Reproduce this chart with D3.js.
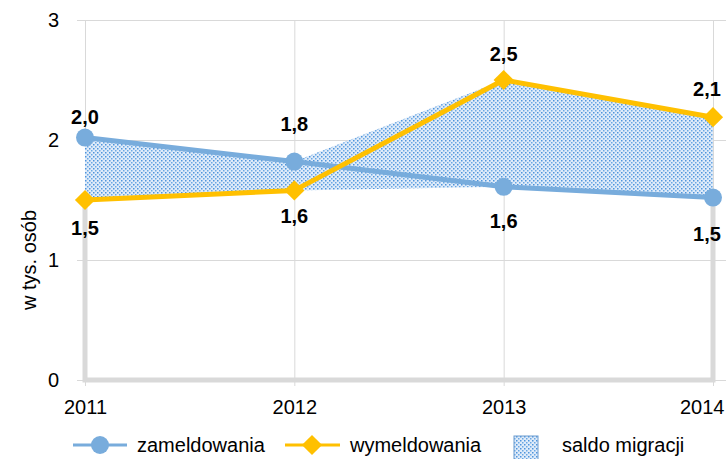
<!DOCTYPE html>
<html>
<head>
<meta charset="utf-8">
<script src="https://cdn.jsdelivr.net/npm/d3@7"></script>
<style>
  body { margin: 0; background: #fff; }
  text { font-family: "Liberation Sans", Arial, sans-serif; fill: #000; }
</style>
</head>
<body>
<div id="chart"></div>
<script>
// values (w tys. osób)
const years = ["2011", "2012", "2013", "2014"];
const zameldowania = [2.02, 1.82, 1.61, 1.52];
const wymeldowania = [1.50, 1.58, 2.50, 2.19];
const zamLabels = ["2,0", "1,8", "1,6", "1,5"];
const wymLabels = ["1,5", "1,6", "2,5", "2,1"];
const yTicks = [0, 1, 2, 3];

// label offsets (px) relative to the marker
const zamDy = [-21, -38, 34, 36];
const wymDy = [28, 26, -26, -28];
const labelDx = [0, 0, 0, -6];

const W = 726, H = 459;
const margin = {top: 20, right: 13, bottom: 79, left: 85};
const width = W - margin.left - margin.right;
const height = H - margin.top - margin.bottom;

const blue = "#78acdc", orange = "#ffc000", grid = "#d9d9d9";

const svg = d3.select("#chart").append("svg")
    .attr("width", W).attr("height", H);

// dotted fill for saldo migracji
const defs = svg.append("defs");
const pat = defs.append("pattern")
    .attr("id", "dots").attr("patternUnits", "userSpaceOnUse")
    .attr("width", 4).attr("height", 4);
pat.append("rect").attr("width", 4).attr("height", 4).attr("fill", "#dfebf9");
pat.append("rect").attr("x", 0).attr("y", 0).attr("width", 1.5).attr("height", 1.5).attr("fill", "#4d94dc");
pat.append("rect").attr("x", 2).attr("y", 2).attr("width", 1.5).attr("height", 1.5).attr("fill", "#6aa7e3");

const x = d3.scalePoint().domain(years).range([0, width]);
const y = d3.scaleLinear().domain([0, 3]).range([height, 0]);

const g = svg.append("g")
    .attr("transform", "translate(" + margin.left + "," + margin.top + ")");

// horizontal gridlines + y labels
g.append("g")
    .call(d3.axisLeft(y).tickValues(yTicks).tickSize(-width - 8).tickPadding(26).tickFormat(d3.format("d")))
    .call(ax => ax.select(".domain").remove())
    .call(ax => ax.selectAll("line").attr("stroke", grid).attr("x1", -8).attr("x2", width + 13))
    .call(ax => ax.selectAll("text").attr("font-size", 20).style("font-family", "Liberation Sans, Arial, sans-serif"));

// vertical gridlines + x labels
g.append("g")
    .attr("transform", "translate(0," + height + ")")
    .call(d3.axisBottom(x).tickSize(-height).tickPadding(20))
    .call(ax => ax.select(".domain").remove())
    .call(ax => ax.selectAll("line").attr("stroke", grid).attr("y2", 6).attr("y1", -height))
    .call(ax => ax.selectAll("text").attr("font-size", 20).style("font-family", "Liberation Sans, Arial, sans-serif"))
    .call(ax => ax.selectAll(".tick:last-of-type text").attr("text-anchor", "end").attr("dx", 11));

const lows = years.map((d, i) => Math.min(zameldowania[i], wymeldowania[i]));
const highs = years.map((d, i) => Math.max(zameldowania[i], wymeldowania[i]));
const last = years.length - 1;

// border of the hidden lower area (left, bottom, right edges)
g.append("path")
    .attr("d", d3.line()([
        [x(years[0]), y(lows[0])], [x(years[0]), y(0)],
        [x(years[last]), y(0)], [x(years[last]), y(lows[last])]
    ]))
    .attr("fill", "none").attr("stroke", grid).attr("stroke-width", 5);

// saldo migracji area
g.append("path")
    .datum(years)
    .attr("d", d3.area()
        .x(d => x(d))
        .y0((d, i) => y(lows[i]))
        .y1((d, i) => y(highs[i])))
    .attr("fill", "url(#dots)");

const line = d3.line().x((d, i) => x(years[i])).y(d => y(d));

g.append("path").datum(zameldowania).attr("d", line)
    .attr("fill", "none").attr("stroke", blue).attr("stroke-width", 5).attr("stroke-linejoin", "round");
g.append("path").datum(wymeldowania).attr("d", line)
    .attr("fill", "none").attr("stroke", orange).attr("stroke-width", 5).attr("stroke-linejoin", "round");

g.selectAll(".zam").data(zameldowania).enter().append("circle")
    .attr("cx", (d, i) => x(years[i])).attr("cy", d => y(d))
    .attr("r", 9).attr("fill", blue);

const diamond = d3.symbol().type(d3.symbolDiamond2).size(260);
g.selectAll(".wym").data(wymeldowania).enter().append("path")
    .attr("d", diamond)
    .attr("transform", (d, i) => "translate(" + x(years[i]) + "," + y(d) + ")")
    .attr("fill", orange);

// data labels
function labels(vals, texts, dys) {
    g.selectAll(null).data(vals).enter().append("text")
        .attr("x", (d, i) => x(years[i]) + labelDx[i])
        .attr("y", (d, i) => y(d) + dys[i])
        .attr("dy", "0.35em")
        .attr("text-anchor", "middle")
        .attr("font-size", 20).attr("font-weight", "bold")
        .text((d, i) => texts[i]);
}
labels(zameldowania, zamLabels, zamDy);
labels(wymeldowania, wymLabels, wymDy);

// y title
svg.append("text")
    .attr("transform", "translate(36," + (margin.top + y(1.0)) + ") rotate(-90)")
    .attr("text-anchor", "middle")
    .attr("font-size", 20)
    .text("w tys. osób");

// legend
const ly = 445;
const leg = svg.append("g");
leg.append("line").attr("x1", 73).attr("x2", 127).attr("y1", ly).attr("y2", ly)
    .attr("stroke", blue).attr("stroke-width", 3);
leg.append("circle").attr("cx", 100).attr("cy", ly).attr("r", 9).attr("fill", blue);
leg.append("text").attr("x", 137).attr("y", ly).attr("dy", "0.35em").attr("font-size", 20).text("zameldowania");

leg.append("line").attr("x1", 285).attr("x2", 340).attr("y1", ly).attr("y2", ly)
    .attr("stroke", orange).attr("stroke-width", 3);
leg.append("path").attr("d", diamond).attr("transform", "translate(312," + ly + ")").attr("fill", orange);
leg.append("text").attr("x", 350).attr("y", ly).attr("dy", "0.35em").attr("font-size", 20).text("wymeldowania");

leg.append("rect").attr("x", 514).attr("y", 436).attr("width", 24).attr("height", 24)
    .attr("fill", "url(#dots)").attr("stroke", "#6b9bd0").attr("stroke-width", 1);
leg.append("text").attr("x", 562).attr("y", ly).attr("dy", "0.35em").attr("font-size", 20).text("saldo migracji");
</script>
</body>
</html>
